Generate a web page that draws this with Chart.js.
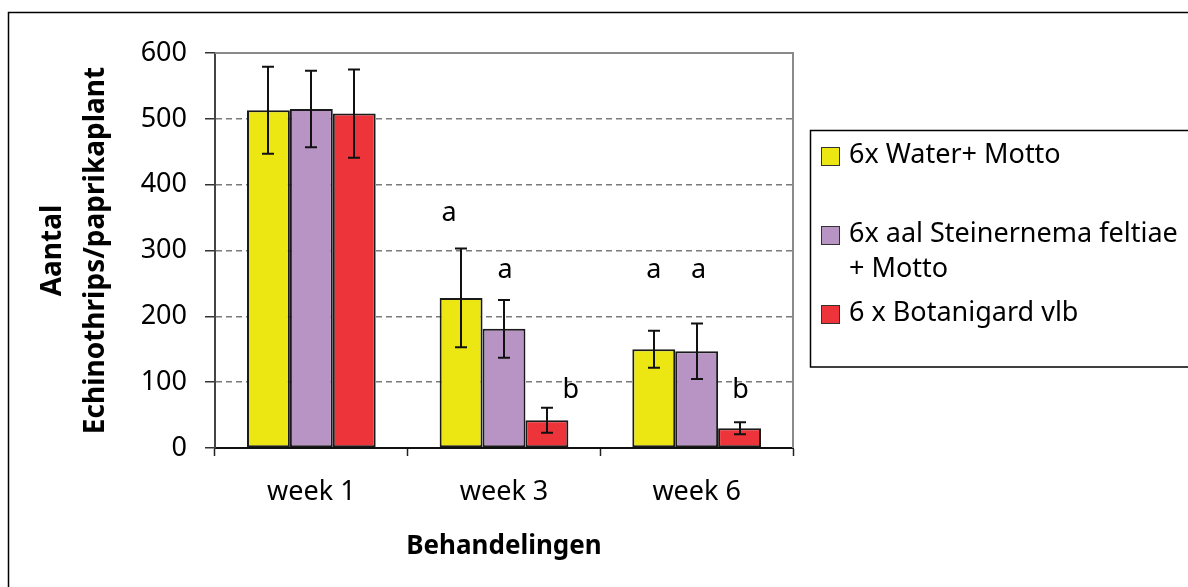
<!DOCTYPE html>
<html>
<head>
<meta charset="utf-8">
<script src="https://cdn.jsdelivr.net/npm/chart.js@4"></script>
<style>
  html, body { margin: 0; padding: 0; background: #fff; }
  #wrap { width: 1188px; height: 587px; }
</style>
</head>
<body>
<div id="wrap"><canvas id="thripsChart"></canvas></div>
<script>
const weeks = ['week 1', 'week 3', 'week 6'];
const seriesNames = ['6x Water+ Motto', '6x aal Steinernema feltiae + Motto', '6 x Botanigard vlb'];
const waterMotto = [513, 228, 150];
const steinernemaMotto = [515, 181, 147];
const botanigard = [508, 42, 30];
// +/- error per bar
const waterErr = [66, 75, 28];
const steinernemaErr = [58, 44, 42];
const botanigardErr = [67, 19, 9];
// significance letters per series per week, and the value level they sit at
const waterLetters = ['', 'a', 'a'];
const steinernemaLetters = ['', 'a', 'a'];
const botanigardLetters = ['', 'b', 'b'];
const waterLetterAt = [0, 356, 270];
const steinernemaLetterAt = [0, 270, 270];
const botanigardLetterAt = [0, 88, 88];

const errors = [waterErr, steinernemaErr, botanigardErr];
const letters = [waterLetters, steinernemaLetters, botanigardLetters];
const letterAt = [waterLetterAt, steinernemaLetterAt, botanigardLetterAt];
const letterShift = [[0, -12, 0], [0, 1, 2], [0, 24, 1]]; // px nudges

const FONT = "'Noto Sans', 'Open Sans', sans-serif";
const legendLines = [['6x Water+ Motto'], ['6x aal Steinernema feltiae', '+ Motto'], ['6 x Botanigard vlb']];

const errorBars = {
  id: 'errorBars',
  afterDatasetsDraw(chart) {
    const { ctx } = chart;
    const y = chart.scales.y;
    ctx.save();
    ctx.strokeStyle = '#111';
    ctx.lineWidth = 2;
    chart.data.datasets.forEach((ds, i) => {
      chart.getDatasetMeta(i).data.forEach((bar, j) => {
        const v = ds.data[j], e = errors[i][j];
        const x = Math.round(bar.x);
        const top = y.getPixelForValue(v + e);
        const bot = y.getPixelForValue(v - e);
        ctx.beginPath();
        ctx.moveTo(x, top); ctx.lineTo(x, bot);
        ctx.moveTo(x - 6, top); ctx.lineTo(x + 6, top);
        ctx.moveTo(x - 6, bot); ctx.lineTo(x + 6, bot);
        ctx.stroke();
        // letters
        const t = letters[i][j];
        if (t) {
          ctx.fillStyle = '#000';
          ctx.font = '27px ' + FONT;
          ctx.textAlign = 'center';
          ctx.textBaseline = 'middle';
          ctx.fillText(t, bar.x + letterShift[i][j], y.getPixelForValue(letterAt[i][j]));
        }
      });
    });
    ctx.restore();
  }
};

const frame = {
  id: 'frame',
  beforeDraw(chart) {
    const { ctx, width, height } = chart;
    ctx.save();
    ctx.fillStyle = '#fff';
    ctx.fillRect(0, 0, width, height);
    ctx.restore();
  },
  afterDraw(chart) {
    const { ctx, chartArea: a } = chart;
    ctx.save();
    // plot area top and right edges
    ctx.strokeStyle = '#8a8a8a';
    ctx.lineWidth = 2;
    ctx.beginPath();
    ctx.moveTo(a.left, a.top); ctx.lineTo(a.right, a.top); ctx.lineTo(a.right, a.bottom);
    ctx.stroke();
    // outer border
    ctx.strokeStyle = '#000';
    ctx.lineWidth = 1.5;
    ctx.strokeRect(8.5, 12.5, 1200, 600);
    // legend
    ctx.strokeRect(810.5, 130.5, 400, 236.5);
    const rows = [156, 235, 314];
    ctx.font = '27px ' + FONT;
    ctx.textAlign = 'left';
    ctx.textBaseline = 'middle';
    chart.data.datasets.forEach((ds, i) => {
      ctx.fillStyle = ds.backgroundColor;
      ctx.fillRect(821, rows[i] - 9, 18, 18);
      ctx.lineWidth = 1;
      ctx.strokeStyle = '#333';
      ctx.strokeRect(821.5, rows[i] - 8.5, 18, 18);
      ctx.fillStyle = '#000';
      legendLines[i].forEach((line, k) => ctx.fillText(line, 849, rows[i] - 1 + k * 35));
    });
    ctx.restore();
  }
};

const ctx = document.getElementById('thripsChart').getContext('2d');
new Chart(ctx, {
  type: 'bar',
  data: {
    labels: weeks,
    datasets: [
      { label: seriesNames[0], data: waterMotto, backgroundColor: '#ece713' },
      { label: seriesNames[1], data: steinernemaMotto, backgroundColor: '#b794c4' },
      { label: seriesNames[2], data: botanigard, backgroundColor: '#ee343b' }
    ]
  },
  options: {
    responsive: true,
    maintainAspectRatio: false,
    animation: false,
    layout: { padding: { top: 53, right: 395, left: 0, bottom: 0 } },
    datasets: {
      bar: {
        barPercentage: 1,
        categoryPercentage: 0.668,
        borderColor: '#1a1a1a',
        borderWidth: 2,
        borderSkipped: false
      }
    },
    plugins: {
      legend: { display: false },
      tooltip: { enabled: false }
    },
    scales: {
      x: {
        afterFit: s => { s.height = 139; },
        grid: { offset: true, drawOnChartArea: false, drawTicks: true, tickLength: 8, tickColor: '#222', tickWidth: 1.5 },
        border: { color: '#111', width: 2 },
        ticks: { color: '#000', padding: 20, font: { family: FONT, size: 27 } },
        title: {
          display: true,
          text: 'Behandelingen',
          color: '#000',
          font: { family: FONT, size: 26, weight: 'bold', lineHeight: '30px' },
          padding: { top: 0, bottom: 25 }
        }
      },
      y: {
        min: 0,
        max: 600,
        afterFit: s => { s.width = 215; },
        grid: { color: '#7a7a7a', lineWidth: 1.5, tickLength: 10, tickColor: '#333', tickWidth: 1.5, tickBorderDash: [] },
        border: { color: '#444', width: 2, dash: [6, 4] },
        ticks: { stepSize: 100, color: '#000', padding: 18, font: { family: FONT, size: 27 } },
        title: {
          display: true,
          text: ['Aantal', 'Echinothrips/paprikaplant'],
          color: '#000',
          font: { family: FONT, size: 28, weight: 'bold', lineHeight: '43px' },
          padding: { top: 32, bottom: 0 }
        }
      }
    }
  },
  plugins: [frame, errorBars]
});
</script>
</body>
</html>
